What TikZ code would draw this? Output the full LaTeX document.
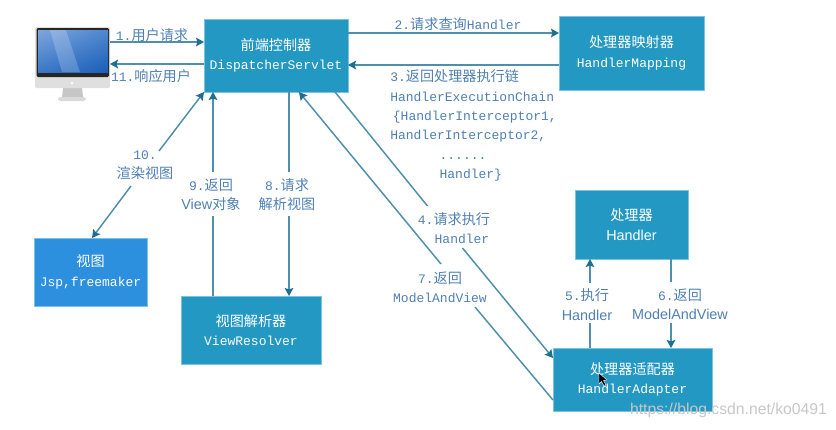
\documentclass[tikz,border=0pt]{standalone}
\usepackage{fontspec}
\setmainfont{Liberation Mono}
\newfontfamily\cjk{Noto Sans CJK SC}
\newfontfamily\arial{Liberation Sans}
\usetikzlibrary{arrows.meta,shadings}

\def\px{0.75pt}
\newcommand{\zh}[1]{{\cjk\fontsize{10.6}{14.5}\selectfont #1}}
\newcommand{\sa}[1]{{\arial\fontsize{10.8}{14.5}\selectfont #1}}

\definecolor{boxblue}{HTML}{2398C3}
\definecolor{viewblue}{HTML}{2C90DF}
\definecolor{edgeblue}{HTML}{7CC3DF}
\definecolor{linecol}{HTML}{4F8FAB}
\definecolor{tipcol}{HTML}{1F6F91}
\definecolor{labelcol}{HTML}{4F80B4}
\definecolor{screenA}{HTML}{7FA6DC}
\definecolor{screenB}{HTML}{4F86CF}
\definecolor{screenC}{HTML}{3B78C6}
\definecolor{screenD}{HTML}{1A5FB8}

\tikzset{
	ctrlbox/.style={draw=edgeblue,line width=0.4pt,fill=boxblue,text=white,align=center,inner sep=0pt,outer sep=0pt,
		font=\fontsize{9.75}{14.5}\selectfont},
	flowlabel/.style={text=labelcol,align=center,inner sep=0pt,font=\fontsize{9.75}{14.5}\selectfont},
	flowline/.style={draw=linecol,line width=1.1pt},
	flowarrow/.style={flowline,-{Stealth[length=6pt,width=6.5pt,inset=1pt,color=tipcol]}}
}

\begin{document}
\begin{tikzpicture}[x=\px,y=-\px]

	\useasboundingbox (0,0) rectangle (836,429);

	% boxes
	\node[ctrlbox,minimum width=144*\px,minimum height=73*\px] (disp) at (276,55.5) {\zh{前端控制器}\\DispatcherServlet};
	\node[ctrlbox,minimum width=145*\px,minimum height=74*\px] (mapping) at (631.5,53) {\zh{处理器映射器}\\HandlerMapping};
	\node[ctrlbox,minimum width=113*\px,minimum height=69*\px] (handler) at (631.5,224.5) {\zh{处理器}\\\sa{Handler}};
	\node[ctrlbox,minimum width=159*\px,minimum height=63*\px] (adapter) at (632.5,379.5) {\zh{处理器适配器}\\HandlerAdapter};
	\node[ctrlbox,fill=viewblue,minimum width=113*\px,minimum height=68*\px] (view) at (90.5,272) {\zh{视图}\\Jsp,freemaker};
	\node[ctrlbox,minimum width=140*\px,minimum height=68*\px] (resolver) at (251,330) {\zh{视图解析器}\\ViewResolver};

	% monitor
	\node[minimum width=75*\px,minimum height=74*\px,inner sep=0pt,outer sep=0pt] (mac) at (72.5,64) {};
	\fill[gray!45] (63,88) -- (82,88) -- (83,97) -- (62,97) -- cycle;
	\fill[gray!30,rounded corners=2pt] (58,97) rectangle (86,101);
	\fill[gray!25,rounded corners=1pt] (35,27) rectangle (110,88);
	\fill[black!85,rounded corners=1pt] (36.5,28) rectangle (109,77);
	\shade[upper left=screenA,upper right=screenB,lower left=screenC,lower right=screenD] (38,30) rectangle (108,72);
	\fill[white,opacity=0.2] (50,30) -- (66,30) -- (80,72) -- (62,72) -- cycle;
	\fill[white] (72,83) circle (1.5);

	% break points of the cut lines
	\coordinate (brk10a) at (159,151);
	\coordinate (brk10b) at (131,186);
	\coordinate (brk9a) at (213,172);
	\coordinate (brk9b) at (213,216);
	\coordinate (brk8a) at (289,172);
	\coordinate (brk8b) at (289,216);
	\coordinate (brk4a) at (427.5,206);
	\coordinate (brk4b) at (462.5,248);
	\coordinate (brk7a) at (441,264);
	\coordinate (brk7b) at (475,307);
	\coordinate (brk5a) at (590,283);
	\coordinate (brk5b) at (590,323);
	\coordinate (brk6a) at (671,282);
	\coordinate (brk6b) at (671,323);

	% arrows
	\draw[flowarrow] ([yshift=-15*\px]mac.north east) -- ([yshift=-23*\px]disp.north west);
	\draw[flowarrow] ([yshift=-45*\px]disp.north west) -- ([yshift=-37*\px]mac.north east);
	\draw[flowarrow] ([yshift=-14*\px]disp.north east) -- ([yshift=-17*\px]mapping.north west);
	\draw[flowarrow] ([yshift=-49*\px]mapping.north west) -- ([yshift=-46*\px]disp.north east);

	\draw[flowline] ([xshift=131*\px]disp.south west) -- (brk4a);
	\draw[flowarrow] (brk4b) -- ([yshift=-10*\px]adapter.north west);
	\draw[flowline] ([xshift=37*\px]adapter.north west) -- (brk5b);
	\draw[flowarrow] (brk5a) -- ([xshift=15*\px]handler.south west);
	\draw[flowline] ([xshift=96*\px]handler.south west) -- (brk6a);
	\draw[flowarrow] (brk6b) -- ([xshift=118*\px]adapter.north west);
	\draw[flowline] ([yshift=-52*\px]adapter.north west) -- (brk7b);
	\draw[flowarrow] (brk7a) -- ([xshift=95*\px]disp.south west);
	\draw[flowline] ([xshift=85*\px]disp.south west) -- (brk8a);
	\draw[flowarrow] (brk8b) -- ([xshift=108*\px]resolver.north west);
	\draw[flowline] ([xshift=32*\px]resolver.north west) -- (brk9b);
	\draw[flowarrow] (brk9a) -- ([xshift=9*\px]disp.south west);
	\draw[flowarrow] (brk10a) -- (disp.south west);
	\draw[flowarrow] (brk10b) -- ([xshift=1.5*\px]view.north);

	% labels
	\node[flowlabel] (lab1) at (152,35) {1.\zh{用户请求}};
	\node[flowlabel] (lab11) at (151,76) {11.\zh{响应用户}};
	\node[flowlabel] (lab2) at (458,24) {2.\zh{请求查询}Handler};
	\node[flowlabel,align=left,anchor=north west] (lab3) at (390,69.5) {3.\zh{返回处理器执行链}\\HandlerExecutionChain\\\hspace*{2pt}\{HandlerInterceptor1,\\HandlerInterceptor2,\\\hspace*{37pt}......\\\hspace*{37pt}Handler\}};
	\node[flowlabel] (lab4) at (454,228) {4.\zh{请求执行}\\\hspace*{12pt}Handler};
	\node[flowlabel] (lab5) at (587,304.5) {5.\zh{执行}\\\sa{Handler}};
	\node[flowlabel] (lab6) at (680,304.5) {6.\zh{返回}\\\sa{ModelAndView}};
	\node[flowlabel] (lab7) at (440,287) {7.\zh{返回}\\ModelAndView};
	\node[flowlabel] (lab8) at (287,194.5) {8.\zh{请求}\\\zh{解析视图}};
	\node[flowlabel] (lab9) at (211,194.5) {9.\zh{返回}\\\sa{View}\zh{对象}};
	\node[flowlabel] (lab10) at (145,165.5) {10.\\\zh{渲染视图}};

	% pointer and watermark
	\filldraw[fill=black,draw=white,line width=0.3pt] (599,373) -- (599,384) -- (601.5,381.5) -- (604,386) -- (606,385) -- (603.5,380.5) -- (607,380) -- cycle;
	\node[text=black!22,inner sep=0pt,font=\arial\fontsize{11.8}{14}\selectfont] (mark) at (728.5,410) {https://blog.csdn.net/ko0491};

\end{tikzpicture}
\end{document}
